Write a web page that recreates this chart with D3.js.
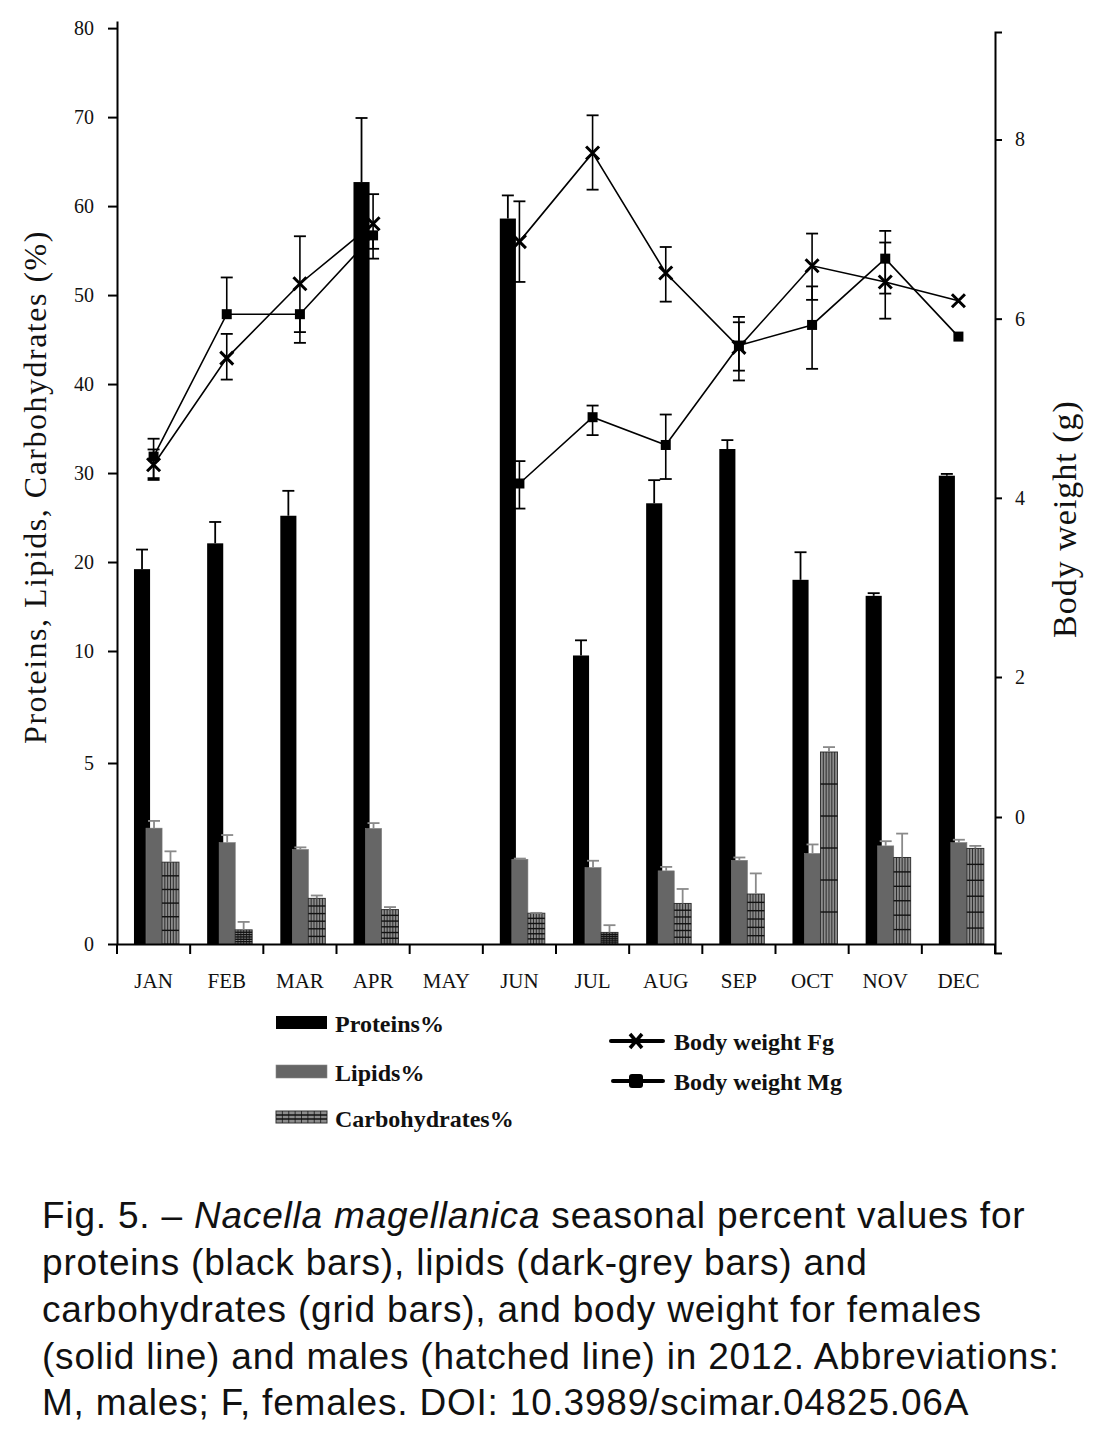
<!DOCTYPE html>
<html>
<head>
<meta charset="utf-8">
<script src="https://cdn.jsdelivr.net/npm/d3@7"></script>
<style>
  body { margin: 0; background: #fff; }
  svg { display: block; }
  .serif { font-family: "Liberation Serif", "DejaVu Serif", serif; }
  .caption { font-family: "Liberation Sans", Arial, sans-serif; font-size: 37px; letter-spacing: 0.8px; fill: #111; }
</style>
</head>
<body>
<div id="chart"></div>
<script>
// Months on the x axis
const months = ["JAN", "FEB", "MAR", "APR", "MAY", "JUN", "JUL", "AUG", "SEP", "OCT", "NOV", "DEC"];

// Biochemical composition (%), upper error bar length
const proteins    = [19.2, 22.1, 25.2, 62.7, null, 58.6, 9.8, 26.6, 32.7, 18.0, 16.2, 29.7];
const proteinsErr = [2.2, 2.4, 2.8, 7.2, null, 2.6, 1.4, 2.6, 1.0, 3.1, 0.3, 0.2];
const lipids      = [3.2, 2.8, 2.61, 3.19, null, 2.34, 2.11, 2.02, 2.31, 2.5, 2.71, 2.8];
const lipidsErr   = [0.2, 0.21, 0.06, 0.15, null, 0.02, 0.19, 0.11, 0.08, 0.25, 0.13, 0.08];
const carbs       = [2.26, 0.39, 1.26, 0.95, null, 0.85, 0.32, 1.12, 1.38, 5.49, 2.39, 2.64];
const carbsErr    = [0.3, 0.22, 0.08, 0.07, null, 0.01, 0.2, 0.4, 0.57, 0.22, 0.66, 0.07];

// Body weight (g): females (Fg) and males (Mg), with error bar ends
const bwFemale     = [4.37, 5.56, 6.39, 7.06, null, 6.86, 7.85, 6.51, 5.68, 6.59, 6.41, 6.20];
const bwFemaleLow  = [4.20, 5.32, 5.73, 6.78, null, 6.41, 7.44, 6.19, 5.42, 6.21, 6.00, null];
const bwFemaleHigh = [4.54, 5.83, 6.92, 7.39, null, 7.31, 8.27, 6.80, 5.96, 6.95, 6.85, null];
const bwMale       = [4.46, 6.05, 6.05, 6.93, null, 4.16, 4.90, 4.59, 5.70, 5.93, 6.67, 5.80];
const bwMaleLow    = [4.22, null, 5.85, 6.67, null, 3.88, 4.70, 4.21, 5.31, 5.44, 6.28, null];
const bwMaleHigh   = [4.66, 6.46, null, null, null, 4.41, 5.03, 4.93, 6.02, 6.36, 6.98, null];

// Axis ticks
const leftTicks = [0, 5, 10, 20, 30, 40, 50, 60, 70, 80];
const rightTicks = [0, 2, 4, 6, 8];

const W = 1102, H = 1447;
const svg = d3.select("#chart").append("svg").attr("width", W).attr("height", H);
svg.append("rect").attr("width", W).attr("height", H).attr("fill", "#fff");

// Scales (the left axis of the original is broken below 10)
const x = d3.scaleBand().domain(months).range([117, 995]);
const bw = x.bandwidth();
const yL = d3.scaleLinear().domain([0, 5, 10, 80.8]).range([944, 763, 651, 21]);
const yR = d3.scaleLinear().domain([-1.95, 0, 2, 9.2]).range([953, 817, 677, 32]);
const cx = m => x(m) + bw / 2;

const lineG = svg.append("g");
const barG = svg.append("g");
const axisG = svg.append("g");

// ---- Body weight lines ----
function drawWeight(vals, lows, highs, marker) {
  const pts = months.map((m, i) => ({ m, v: vals[i], lo: lows[i], hi: highs[i] }));
  const line = d3.line()
    .defined(d => d.v != null)
    .x(d => cx(d.m))
    .y(d => yR(d.v));
  lineG.append("path")
    .datum(pts)
    .attr("d", line)
    .attr("fill", "none")
    .attr("stroke", "#000")
    .attr("stroke-width", 1.6);

  const valid = pts.filter(d => d.v != null);
  // error bars
  valid.forEach(d => {
    const top = d.hi != null ? d.hi : d.v;
    const bot = d.lo != null ? d.lo : d.v;
    lineG.append("line")
      .attr("x1", cx(d.m)).attr("x2", cx(d.m))
      .attr("y1", yR(top)).attr("y2", yR(bot))
      .attr("stroke", "#000").attr("stroke-width", 1.6);
    [d.hi, d.lo].filter(c => c != null).forEach(c => {
      lineG.append("line")
        .attr("x1", cx(d.m) - 6).attr("x2", cx(d.m) + 6)
        .attr("y1", yR(c)).attr("y2", yR(c))
        .attr("stroke", "#000").attr("stroke-width", 1.8);
    });
  });
  // markers
  valid.forEach(d => {
    if (marker === "x") {
      const s = 6.5;
      lineG.append("path")
        .attr("d", `M${cx(d.m) - s},${yR(d.v) - s}L${cx(d.m) + s},${yR(d.v) + s}M${cx(d.m) - s},${yR(d.v) + s}L${cx(d.m) + s},${yR(d.v) - s}`)
        .attr("stroke", "#000").attr("stroke-width", 3);
    } else {
      lineG.append("rect")
        .attr("x", cx(d.m) - 5).attr("y", yR(d.v) - 5)
        .attr("width", 10).attr("height", 10)
        .attr("fill", "#000");
    }
  });
}
drawWeight(bwMale, bwMaleLow, bwMaleHigh, "square");
drawWeight(bwFemale, bwFemaleLow, bwFemaleHigh, "x");

// ---- Bars ----
// grid-filled bar for carbohydrates
function gridBar(g, x0, y0, w, h, cols, rows) {
  g.append("rect").attr("x", x0).attr("y", y0).attr("width", w).attr("height", h)
    .attr("fill", "#8c8c8c").attr("stroke", "#333").attr("stroke-width", 1);
  for (let i = 1; i < cols; i++) {
    g.append("line").attr("x1", x0 + w * i / cols).attr("x2", x0 + w * i / cols)
      .attr("y1", y0).attr("y2", y0 + h).attr("stroke", "#222").attr("stroke-width", 0.9);
  }
  for (let j = 1; j < rows; j++) {
    g.append("line").attr("x1", x0).attr("x2", x0 + w)
      .attr("y1", y0 + h * j / rows).attr("y2", y0 + h * j / rows)
      .attr("stroke", "#111").attr("stroke-width", 1.4);
  }
}

const series = [
  { vals: proteins, errs: proteinsErr, off: 0.232, wid: 0.22, kind: "protein", errColor: "#000" },
  { vals: lipids, errs: lipidsErr, off: 0.396, wid: 0.22, kind: "lipid", errColor: "#8a8a8a" },
  { vals: carbs, errs: carbsErr, off: 0.615, wid: 0.232, kind: "carb", errColor: "#8a8a8a" }
];

series.forEach(s => {
  months.forEach((m, i) => {
    const v = s.vals[i];
    if (v == null) return;
    const bx = x(m) + bw * s.off, w = bw * s.wid;
    const top = yL(v), h = yL(0) - yL(v);
    if (s.kind === "protein") {
      barG.append("rect").attr("x", bx).attr("y", top).attr("width", w).attr("height", h).attr("fill", "#000");
    } else if (s.kind === "lipid") {
      barG.append("rect").attr("x", bx).attr("y", top).attr("width", w).attr("height", h)
        .attr("fill", "#666").attr("stroke", "#777").attr("stroke-width", 0.6);
    } else {
      gridBar(barG, bx, top, w, h, 6, 6);
    }
  });
});

// bar error bars (upper only)
series.forEach(s => {
  months.forEach((m, i) => {
    const v = s.vals[i], e = s.errs[i];
    if (v == null || e == null) return;
    const mx = x(m) + bw * (s.off + s.wid / 2);
    barG.append("line").attr("x1", mx).attr("x2", mx)
      .attr("y1", yL(v)).attr("y2", yL(v + e))
      .attr("stroke", s.errColor).attr("stroke-width", 1.8);
    barG.append("line").attr("x1", mx - 6).attr("x2", mx + 6)
      .attr("y1", yL(v + e)).attr("y2", yL(v + e))
      .attr("stroke", s.errColor).attr("stroke-width", 1.8);
  });
});

// ---- Axes ----
const left = axisG.append("g").attr("transform", "translate(117,0)")
  .call(d3.axisLeft(yL).tickValues(leftTicks).tickSize(9).tickPadding(14).tickSizeOuter(0));
const right = axisG.append("g").attr("transform", "translate(995,0)")
  .call(d3.axisRight(yR).tickValues(rightTicks).tickSize(7).tickPadding(13).tickSizeOuter(7));
const bottom = axisG.append("g").attr("transform", "translate(0,944)")
  .call(d3.axisBottom(x).tickSize(0).tickPadding(29));

// boundary ticks between months
bottom.selectAll(".bound")
  .data(months.map(m => x(m)).concat([x.range()[1]]))
  .enter().append("line")
  .attr("x1", d => d).attr("x2", d => d)
  .attr("y1", 0).attr("y2", 10)
  .attr("stroke", "#000").attr("stroke-width", 2);

[left, right, bottom].forEach(a => {
  a.selectAll("path.domain").attr("stroke", "#000").attr("stroke-width", 2);
  a.selectAll(".tick line").attr("stroke", "#000").attr("stroke-width", 2);
  a.selectAll("text").attr("class", "serif").style("font-size", "20px").attr("fill", "#111");
});
bottom.selectAll("text").style("font-size", "21px");

// axis titles
svg.append("text").attr("class", "serif")
  .attr("transform", "translate(35,487) rotate(-90)")
  .attr("text-anchor", "middle").attr("dominant-baseline", "central")
  .style("font-size", "32px").style("letter-spacing", "1.5px").attr("fill", "#111")
  .text("Proteins, Lipids, Carbohydrates (%)");
svg.append("text").attr("class", "serif")
  .attr("transform", "translate(1064,519) rotate(-90)")
  .attr("text-anchor", "middle").attr("dominant-baseline", "central")
  .style("font-size", "34px").style("letter-spacing", "1px").attr("fill", "#111")
  .text("Body weight (g)");

// ---- Legend ----
const leg = svg.append("g").attr("class", "serif").style("font-size", "24px").style("font-weight", "bold");
leg.append("rect").attr("x", 276).attr("y", 1016).attr("width", 51).attr("height", 13).attr("fill", "#000");
leg.append("text").attr("x", 335).attr("y", 1032).attr("fill", "#111").text("Proteins%");
leg.append("rect").attr("x", 276).attr("y", 1065).attr("width", 51).attr("height", 13)
  .attr("fill", "#666").attr("stroke", "#888").attr("stroke-width", 0.6);
leg.append("text").attr("x", 335).attr("y", 1081).attr("fill", "#111").text("Lipids%");
gridBar(leg, 276, 1111, 51, 12, 8, 3);
leg.append("text").attr("x", 335).attr("y", 1127).attr("fill", "#111").text("Carbohydrates%");

leg.append("line").attr("x1", 611).attr("x2", 663).attr("y1", 1041).attr("y2", 1041)
  .attr("stroke", "#000").attr("stroke-width", 4).attr("stroke-linecap", "round");
leg.append("path").attr("d", "M630,1034L642,1048M630,1048L642,1034")
  .attr("stroke", "#000").attr("stroke-width", 3.5);
leg.append("text").attr("x", 674).attr("y", 1050).attr("fill", "#111").text("Body weight Fg");
leg.append("line").attr("x1", 613).attr("x2", 663).attr("y1", 1081).attr("y2", 1081)
  .attr("stroke", "#000").attr("stroke-width", 4).attr("stroke-linecap", "round");
leg.append("rect").attr("x", 629).attr("y", 1074).attr("width", 14).attr("height", 14)
  .attr("rx", 3).attr("fill", "#000");
leg.append("text").attr("x", 674).attr("y", 1090).attr("fill", "#111").text("Body weight Mg");

// ---- Caption ----
const cap = svg.append("text").attr("class", "caption");
const l1 = cap.append("tspan").attr("x", 42).attr("y", 1228);
l1.append("tspan").text("Fig. 5. – ");
l1.append("tspan").style("font-style", "italic").text("Nacella magellanica");
l1.append("tspan").text(" seasonal percent values for");
cap.append("tspan").attr("x", 42).attr("y", 1275).text("proteins (black bars), lipids (dark-grey bars) and");
cap.append("tspan").attr("x", 42).attr("y", 1322).text("carbohydrates (grid bars), and body weight for females");
cap.append("tspan").attr("x", 42).attr("y", 1369).text("(solid line) and males (hatched line) in 2012. Abbreviations:");
cap.append("tspan").attr("x", 42).attr("y", 1415).text("M, males; F, females. DOI: 10.3989/scimar.04825.06A");
</script>
</body>
</html>
